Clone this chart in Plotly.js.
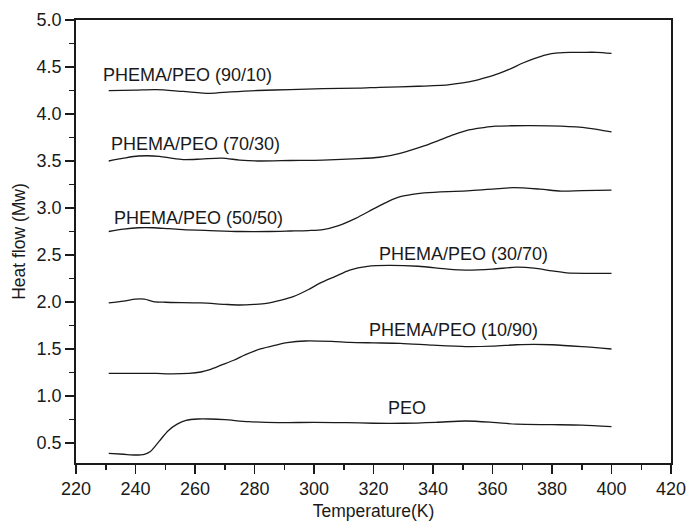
<!DOCTYPE html>
<html>
<head>
<meta charset="utf-8">
<script src="https://cdn.plot.ly/plotly-3.0.1.min.js"></script>
<style>html,body{margin:0;padding:0;background:#fff;}#chart{width:688px;height:522px;}</style>
</head>
<body>
<div id="chart"></div>
<script>
// ---- data ----
const seriesNames = ["PEO", "PHEMA/PEO (10/90)", "PHEMA/PEO (30/70)", "PHEMA/PEO (50/50)", "PHEMA/PEO (70/30)", "PHEMA/PEO (90/10)"];

const peoX = [231, 236, 240, 243, 245, 248, 251, 254, 257, 261, 265, 270, 278, 288, 300, 311, 320, 330, 341, 351, 360, 368, 380, 390, 400];
const peoY = [0.39, 0.38, 0.372, 0.38, 0.41, 0.52, 0.63, 0.70, 0.74, 0.755, 0.755, 0.748, 0.727, 0.716, 0.72, 0.716, 0.71, 0.71, 0.72, 0.734, 0.72, 0.70, 0.695, 0.69, 0.673];

const p1090X = [231, 240, 247, 251, 258, 262, 265, 269, 273, 277, 282, 287, 291, 297, 306, 312, 320, 329, 340, 351, 360, 368, 374, 380, 390, 400];
const p1090Y = [1.24, 1.24, 1.24, 1.235, 1.24, 1.255, 1.28, 1.33, 1.38, 1.44, 1.50, 1.54, 1.567, 1.585, 1.58, 1.57, 1.565, 1.56, 1.54, 1.525, 1.53, 1.545, 1.55, 1.545, 1.525, 1.50];

const p3070X = [231, 236, 240, 243, 246, 250, 262, 270, 275, 280, 284, 289, 293, 298, 302, 307, 312, 318, 325, 335, 345, 351, 360, 368, 374, 380, 385, 392, 400];
const p3070Y = [1.99, 2.01, 2.03, 2.03, 2.005, 1.997, 1.99, 1.975, 1.968, 1.975, 1.986, 2.02, 2.057, 2.13, 2.20, 2.27, 2.34, 2.38, 2.39, 2.38, 2.35, 2.34, 2.35, 2.37, 2.36, 2.33, 2.31, 2.305, 2.305];

const p5050X = [231, 236, 241, 246, 251, 256, 265, 275, 285, 292, 298, 303, 308, 314, 320, 325, 329, 333, 337, 345, 350, 360, 367, 376, 383, 390, 400];
const p5050Y = [2.75, 2.775, 2.79, 2.79, 2.78, 2.77, 2.76, 2.75, 2.75, 2.755, 2.76, 2.77, 2.81, 2.89, 2.99, 3.07, 3.12, 3.145, 3.16, 3.175, 3.18, 3.2, 3.216, 3.20, 3.18, 3.185, 3.19];

const p7030X = [231, 236, 241, 248, 252, 256, 262, 269, 275, 281, 292, 303, 315, 322, 326, 331, 337, 342, 347, 352, 357, 361, 367, 373, 383, 392, 400];
const p7030Y = [3.50, 3.53, 3.553, 3.55, 3.53, 3.515, 3.52, 3.53, 3.51, 3.50, 3.505, 3.51, 3.525, 3.54, 3.56, 3.60, 3.66, 3.72, 3.78, 3.83, 3.855, 3.87, 3.875, 3.876, 3.87, 3.85, 3.81];

const p9010X = [231, 240, 247, 256, 265, 272, 281, 292, 303, 315, 322, 335, 345, 350, 354, 358, 362, 366, 370, 374, 378, 382, 386, 390, 395, 400];
const p9010Y = [4.248, 4.255, 4.26, 4.24, 4.22, 4.235, 4.25, 4.26, 4.27, 4.275, 4.284, 4.295, 4.31, 4.33, 4.355, 4.39, 4.43, 4.48, 4.54, 4.59, 4.63, 4.65, 4.656, 4.656, 4.656, 4.645];

// label anchor positions (data coordinates)
const labelX = [331.3, 346.8, 350.2, 261.1, 260.0, 257.6];
const labelY = [0.869, 1.70, 2.507, 2.89, 3.678, 4.415];

const xTickVals = [220, 240, 260, 280, 300, 320, 340, 360, 380, 400, 420];
const yTickVals = [0.5, 1.0, 1.5, 2.0, 2.5, 3.0, 3.5, 4.0, 4.5, 5.0];
const yTickText = ["0.5", "1.0", "1.5", "2.0", "2.5", "3.0", "3.5", "4.0", "4.5", "5.0"];

// ---- build chart ----
const xs = [peoX, p1090X, p3070X, p5050X, p7030X, p9010X];
const ys = [peoY, p1090Y, p3070Y, p5050Y, p7030Y, p9010Y];
const FONT = "'Liberation Sans', Arial, Helvetica, sans-serif";
const INK = "#1a1a1a";

const traces = seriesNames.map((n, i) => ({
  x: xs[i], y: ys[i], name: n, type: "scatter", mode: "lines",
  line: {color: INK, width: 1.3, shape: "spline", smoothing: 0.8},
  hoverinfo: "skip"
}));

const annotations = seriesNames.map((n, i) => ({
  x: labelX[i], y: labelY[i], xref: "x", yref: "y", text: n, showarrow: false,
  font: {family: FONT, size: 18, color: INK}, xanchor: "center", yanchor: "middle"
}));

const layout = {
  width: 688, height: 522,
  margin: {l: 76, r: 17, t: 20, b: 59, pad: 0},
  paper_bgcolor: "#ffffff", plot_bgcolor: "#ffffff",
  showlegend: false,
  font: {family: FONT, size: 18, color: INK},
  xaxis: {
    range: [220, 420], tickvals: xTickVals, ticks: "outside", ticklen: 9, tickwidth: 1.5, tickcolor: INK,
    showline: true, linecolor: INK, linewidth: 1.8, mirror: true, showgrid: false, zeroline: false,
    tickfont: {family: FONT, size: 18, color: INK},
    minor: {dtick: 10, tick0: 220, ticks: "outside", ticklen: 5, tickwidth: 1.5, tickcolor: INK, showgrid: false},
    title: {text: "Temperature(K)", font: {family: FONT, size: 17.5, color: INK}, standoff: 6}
  },
  yaxis: {
    range: [0.287, 5.0], tickvals: yTickVals, ticktext: yTickText, ticks: "outside", ticklen: 9, tickwidth: 1.5, tickcolor: INK,
    showline: true, linecolor: INK, linewidth: 1.8, mirror: true, showgrid: false, zeroline: false,
    tickfont: {family: FONT, size: 18, color: INK},
    minor: {dtick: 0.25, tick0: 0, ticks: "outside", ticklen: 5, tickwidth: 1.5, tickcolor: INK, showgrid: false},
    title: {text: "Heat flow (Mw)", font: {family: FONT, size: 17.5, color: INK}, standoff: 6}
  },
  annotations: annotations
};

Plotly.newPlot("chart", traces, layout, {staticPlot: true, displayModeBar: false});
</script>
</body>
</html>
